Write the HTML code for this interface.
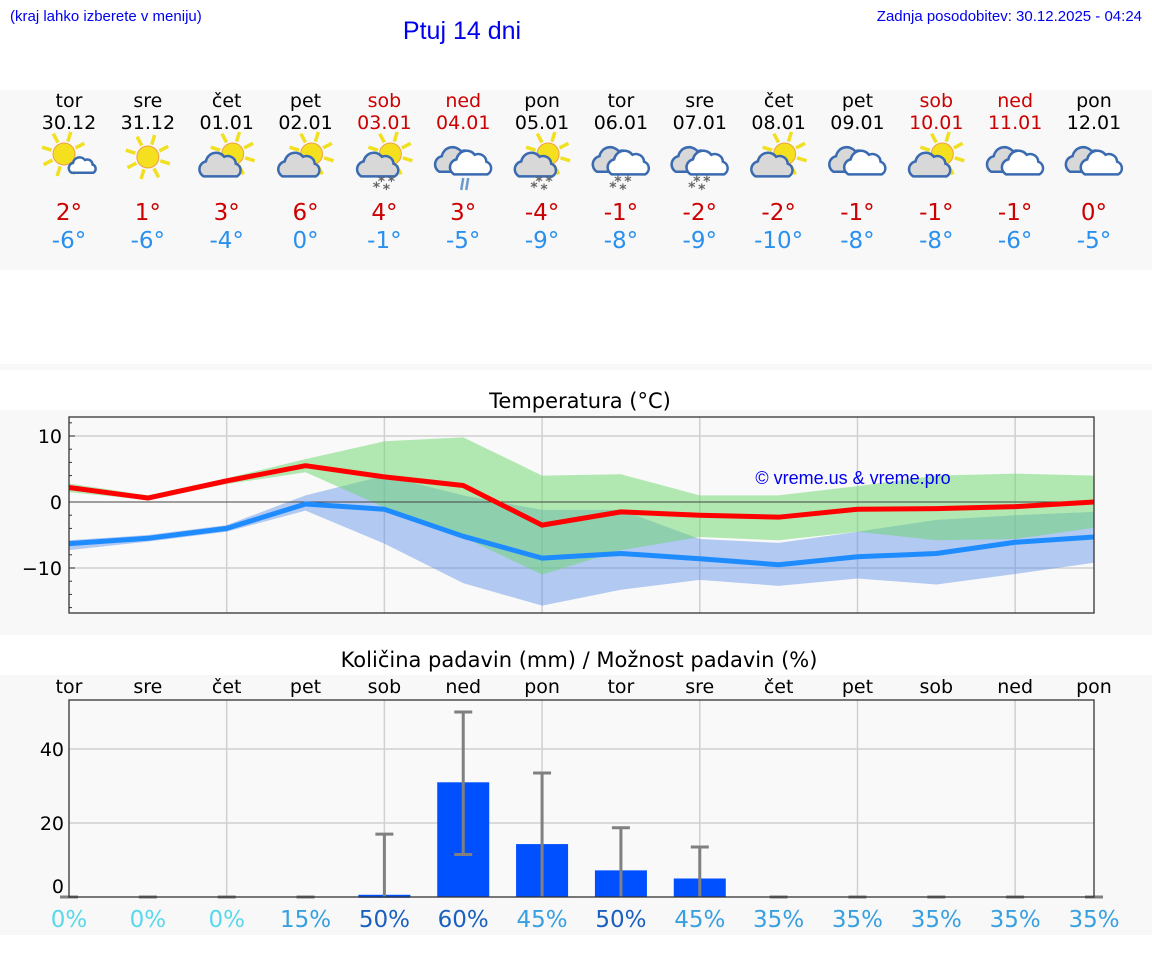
<!DOCTYPE html>
<html><head><meta charset="utf-8"><style>
body{margin:0;background:#fff;}
svg{display:block;}
</style></head><body>
<svg id="s" width="1152" height="975" xmlns="http://www.w3.org/2000/svg">
<rect x="0" y="90" width="1152" height="180" fill="#f8f8f8"/>
<rect x="0" y="364" width="1152" height="6" fill="#f8f8f8"/>
<rect x="0" y="410" width="1152" height="225" fill="#f8f8f8"/>
<rect x="0" y="675" width="1152" height="260" fill="#f8f8f8"/>
<text x="10" y="21" font-family="Liberation Sans, sans-serif" font-size="15" fill="#0000ee">(kraj lahko izberete v meniju)</text>
<text x="462" y="39" text-anchor="middle" font-family="Liberation Sans, sans-serif" font-size="25" fill="#0000ee">Ptuj 14 dni</text>
<text x="1142" y="21" text-anchor="end" font-family="Liberation Sans, sans-serif" font-size="15" fill="#0000ee">Zadnja posodobitev: 30.12.2025 - 04:24</text>
<text x="580" y="408" text-anchor="middle" font-family="DejaVu Sans, sans-serif" font-size="21" fill="#000">Temperatura (°C)</text>
<text x="579" y="667" text-anchor="middle" font-family="DejaVu Sans, sans-serif" font-size="21" fill="#000">Količina padavin (mm) / Možnost padavin (%)</text>
<g id="g"></g>
</svg>
<script>
const days=["tor","sre","čet","pet","sob","ned","pon","tor","sre","čet","pet","sob","ned","pon"];
const dates=["30.12","31.12","01.01","02.01","03.01","04.01","05.01","06.01","07.01","08.01","09.01","10.01","11.01","12.01"];
const weekend=[0,0,0,0,1,1,0,0,0,0,0,1,1,0];
const icons=["sc","s","cs","cs","css","ccr","css","ccs","ccs","cs","cc","cs","cc","cc"];
const hiLabels=[2,1,3,6,4,3,-4,-1,-2,-2,-1,-1,-1,0];
const loLabels=[-6,-6,-4,0,-1,-5,-9,-8,-9,-10,-8,-8,-6,-5];
const tMax=[2.2,0.6,3.2,5.5,3.8,2.5,-3.5,-1.5,-2.0,-2.3,-1.1,-1.0,-0.7,0.0];
const tMin=[-6.3,-5.5,-4.0,-0.3,-1.1,-5.2,-8.5,-7.8,-8.6,-9.5,-8.3,-7.8,-6.1,-5.3];
const maxHi=[2.8,1.0,3.6,6.5,9.2,9.8,4.0,4.2,1.0,1.0,2.4,4.0,4.3,4.0];
const maxLo=[1.5,0.3,2.7,4.5,-0.8,-5.3,-11.0,-7.3,-5.3,-5.8,-4.5,-5.8,-5.6,-3.9];
const minHi=[-5.8,-5.0,-3.5,1.0,4.0,1.0,-1.2,-1.2,-5.6,-6.2,-4.5,-2.7,-2.0,-1.5];
const minLo=[-7.3,-6.0,-4.5,-1.3,-6.3,-12.3,-15.7,-13.3,-11.8,-12.7,-11.6,-12.5,-10.9,-9.2];
const tTicks=[10,0,-10];
const precip=[0,0,0,0,0.6,31,14.3,7.2,5.0,0,0,0,0,0];
const errLo=[0,0,0,0,0,11.5,0,0,0,0,0,0,0,0];
const errHi=[0,0,0,0,17,50,33.5,18.7,13.5,0,0,0,0,0];
const chance=[0,0,0,15,50,60,45,50,45,35,35,35,35,35];
const pTicks=[40,20,0];

const NS="http://www.w3.org/2000/svg";
const G=document.getElementById('g');
function el(t,a,p){const e=document.createElementNS(NS,t);for(const k in a)e.setAttribute(k,a[k]);(p||G).appendChild(e);return e;}
const X0=69,X1=1094,n=days.length;
const xs=i=>X0+i*(X1-X0)/(n-1);
const ty=v=>502-v*6.6;
const py=v=>897-v*3.7;

for(let i=0;i<n;i++){
  const c=xs(i), col=weekend[i]?"#cc0000":"#000";
  let t=el('text',{x:c,y:107,'text-anchor':'middle','font-family':'DejaVu Sans, sans-serif','font-size':19,fill:col});t.textContent=days[i];
  
  t=el('text',{x:c,y:129,'text-anchor':'middle','font-family':'DejaVu Sans, sans-serif','font-size':19,fill:col});t.textContent=dates[i];
  
  t=el('text',{x:c,y:220,'text-anchor':'middle','font-family':'DejaVu Sans, sans-serif','font-size':23,fill:"#cc0000"});t.textContent=hiLabels[i]+"°";
  
  t=el('text',{x:c,y:248,'text-anchor':'middle','font-family':'DejaVu Sans, sans-serif','font-size':23,fill:"#2a90ee"});t.textContent=loLabels[i]+"°";
  
  drawIcon(c,160,icons[i]);
}
function sun(g,cx,cy,r){
  for(let k=0;k<8;k++){const a=k*Math.PI/4+0.3;el('line',{x1:cx+Math.cos(a)*(r+2),y1:cy+Math.sin(a)*(r+2),x2:cx+Math.cos(a)*(r+12),y2:cy+Math.sin(a)*(r+12),stroke:"#f0e020","stroke-width":3.5},g);}
  el('circle',{cx:cx,cy:cy,r:r,fill:"#f5e020",stroke:"#f0a040","stroke-width":1},g);
}
function cloud(g,cx,cy,s,fill){
  const p=`M${cx-14*s},${cy+9*s} a${7*s},${7*s} 0 0 1 ${2*s},${-13*s} a${9*s},${9*s} 0 0 1 ${16*s},${-4*s} a${7*s},${7*s} 0 0 1 ${10*s},${6*s} a${6*s},${6*s} 0 0 1 ${1*s},${11*s} z`;
  el('path',{d:p,fill:fill,stroke:"#3a6ab0","stroke-width":2.5},g);
}
function drawIcon(cx,cy,k){
  const g=el('g',{});
  
  
  if(k=="s"){sun(g,cx,cy-3,11);}
  if(k=="sc"){sun(g,cx-5,cy-6,11);cloud(g,cx+13,cy+6,0.75,"#fff");}
  if(k=="cs"||k=="css"){sun(g,cx+6,cy-6,11);cloud(g,cx-7,cy+6,1.15,"#d8d8d8");}
  if(k=="cc"||k=="ccs"||k=="ccr"){cloud(g,cx-7,cy+1,1.2,"#d8d8d8");cloud(g,cx+7,cy+4,1.15,"#fff");}
  if(k=="css"||k=="ccs"){for(const [dx,dy] of [[-8,28],[2,30],[-3,22],[7,22]]){const t=el('text',{x:cx+dx,y:cy+dy+4,'font-size':14,'font-weight':'bold',fill:"#666",'text-anchor':'middle','font-family':'DejaVu Sans'},g);t.textContent="*";}}
  if(k=="ccr"){el('line',{x1:cx,y1:cy+18,x2:cx-2,y2:cy+30,stroke:"#6a9ad0","stroke-width":2.5},g);el('line',{x1:cx+5,y1:cy+18,x2:cx+3,y2:cy+30,stroke:"#6a9ad0","stroke-width":2.5},g);}
}

el('rect',{x:X0,y:417,width:X1-X0,height:196,fill:"#f9f9f9"});
for(let i=0;i<n;i+=2){if(i>0)el('line',{x1:xs(i),y1:417,x2:xs(i),y2:613,stroke:"#d0d0d0","stroke-width":1.5});}
for(const v of tTicks){if(v!=0)el('line',{x1:X0,y1:ty(v),x2:X1,y2:ty(v),stroke:"#d0d0d0","stroke-width":1.5});
  const t=el('text',{x:62,y:ty(v)+7,'text-anchor':'end','font-family':'DejaVu Sans, sans-serif','font-size':19,fill:"#000"});t.textContent=(v<0?"−":"")+Math.abs(v);
  }
for(let v=-16;v<=12;v+=2){el('line',{x1:X0,y1:ty(v),x2:X0+(v%10==0?6:3),y2:ty(v),stroke:"#333","stroke-width":1});}
function band(hi,lo,fill,op,name){
  let d="M"+hi.map((v,i)=>xs(i)+","+ty(v)).join(" L")+" L"+lo.map((v,i)=>xs(i)+","+ty(v)).reverse().join(" L")+"Z";
  const p=el('path',{d:d,fill:fill,'fill-opacity':op});
  
}
band(minHi,minLo,"#5a8ee8",0.45,'min-temp-range');
band(maxHi,maxLo,"#6ad86a",0.5,'max-temp-range');
el('line',{x1:X0,y1:ty(0),x2:X1,y2:ty(0),stroke:"#444","stroke-width":1});
function line(arr,col,name){const p=el('polyline',{points:arr.map((v,i)=>xs(i)+","+ty(v)).join(" "),fill:"none",stroke:col,"stroke-width":5,"stroke-linejoin":"round"});
  }
line(tMin,"#1e8cff",'min-temp-line');
line(tMax,"#ff0000",'max-temp-line');
el('rect',{x:X0,y:417,width:X1-X0,height:196,fill:"none",stroke:"#333","stroke-width":1.3});
{const t=el('text',{x:853,y:484,'text-anchor':'middle','font-family':'Liberation Sans, sans-serif','font-size':18,fill:"#0000ee"});t.textContent="© vreme.us & vreme.pro";
 }

el('rect',{x:X0,y:700,width:X1-X0,height:197,fill:"#f9f9f9"});
for(let i=2;i<n;i+=2)el('line',{x1:xs(i),y1:700,x2:xs(i),y2:897,stroke:"#d0d0d0","stroke-width":1.5});
for(const v of pTicks){if(v!=0)el('line',{x1:X0,y1:py(v),x2:X1,y2:py(v),stroke:"#d0d0d0","stroke-width":1.5});
  const t=el('text',{x:64,y:v==0?893:py(v)+7,'text-anchor':'end','font-family':'DejaVu Sans, sans-serif','font-size':19,fill:"#000"});t.textContent=v;
  }
for(let i=0;i<n;i++){
  const c=xs(i);
  let t=el('text',{x:c,y:693,'text-anchor':'middle','font-family':'DejaVu Sans, sans-serif','font-size':19,fill:"#000"});t.textContent=days[i];
  
  if(precip[i]>0){const b=el('rect',{x:c-26,y:py(precip[i]),width:52,height:Math.max(precip[i]*3.7,3),fill:"#0050ff"});
    }
  const lo=py(errLo[i]),hi=py(errHi[i]);
  const e=el('g',{});
  
  el('line',{x1:c,y1:lo,x2:c,y2:hi,stroke:"#808080","stroke-width":3},e);
  el('line',{x1:c-9,y1:hi,x2:c+9,y2:hi,stroke:"#808080","stroke-width":3},e);
  if(errLo[i]>0)el('line',{x1:c-9,y1:lo,x2:c+9,y2:lo,stroke:"#808080","stroke-width":3},e);
  const pc=chance[i], pcol=pc==0?"#5ad8ea":(pc>=50?"#1a60c0":"#38a0e0");
  t=el('text',{x:c,y:927,'text-anchor':'middle','font-family':'DejaVu Sans, sans-serif','font-size':23,fill:pcol});t.textContent=pc+"%";
  
}
el('rect',{x:X0,y:700,width:X1-X0,height:197,fill:"none",stroke:"#333","stroke-width":1.3});
</script>
</body></html>
